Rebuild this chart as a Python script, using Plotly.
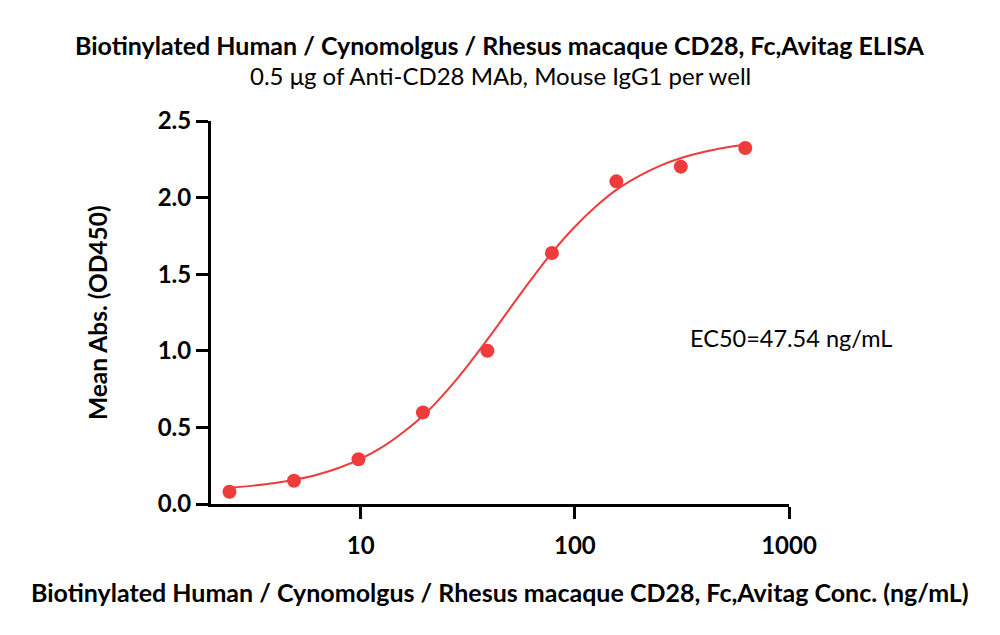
import plotly.graph_objects as go
import numpy as np

# measured points (two-fold dilution series)
conc = [2.44, 4.88, 9.77, 19.53, 39.06, 78.13, 156.25, 312.5, 625]
od450 = [0.080, 0.152, 0.292, 0.598, 1.000, 1.638, 2.106, 2.202, 2.324]

# fitted curve
fit_conc = [2.44, 3.16, 3.98, 5.01, 6.31, 7.94, 10, 12.6, 15.8, 20.0, 25.1, 31.6,
            39.8, 50.1, 63.1, 79.4, 100, 126, 158, 200, 251, 316, 398, 501, 625]
fit_od = [0.106, 0.120, 0.137, 0.161, 0.193, 0.237, 0.295, 0.371, 0.468, 0.589,
          0.735, 0.904, 1.089, 1.282, 1.473, 1.652, 1.810, 1.945, 2.055, 2.142,
          2.209, 2.260, 2.298, 2.326, 2.346]

x_ticks = [10, 100, 1000]
y_ticks = [0, 0.5, 1.0, 1.5, 2.0, 2.5]

RED = "#ee3b3b"
FONT = "Lato"
# page body adds an 8px offset, so shift everything back
OFF = 8
L, R, T, B = 211 - OFF, 211 + OFF, 121 - OFF, 131 + OFF

fig = go.Figure()
fig.add_trace(go.Scatter(x=fit_conc, y=fit_od, mode="lines", line_shape="spline",
                         line=dict(color=RED, width=2), showlegend=False))
fig.add_trace(go.Scatter(x=conc, y=od450, mode="markers",
                         marker=dict(color=RED, size=14), showlegend=False, cliponaxis=False))

axis_common = dict(showline=True, linecolor="black", linewidth=3, ticks="outside",
                   ticklen=12, tickwidth=3, tickcolor="black", showgrid=False,
                   zeroline=False, tickfont=dict(family=FONT, size=24, color="black", weight="bold"))

fig.update_xaxes(type="log", range=[np.log10(2), 3], tickvals=x_ticks,
                 ticktext=[str(v) for v in x_ticks], ticklabelstandoff=6, **axis_common)
fig.update_yaxes(range=[0, 2.5], tickvals=y_ticks,
                 ticktext=[f"{v:.1f}" for v in y_ticks], **axis_common)

fig.update_layout(
    width=1000, height=635,
    margin=dict(l=L, r=R, t=T, b=B),
    paper_bgcolor="white", plot_bgcolor="white",
    font=dict(family=FONT, color="black"),
    annotations=[
        dict(text="<b>Biotinylated Human / Cynomolgus / Rhesus macaque CD28, Fc,Avitag ELISA</b>",
             x=500, y=45, showarrow=False, font=dict(size=25)),
        dict(text="0.5 μg of Anti-CD28 MAb, Mouse IgG1 per well",
             x=500, y=76, showarrow=False, font=dict(size=24)),
        dict(text="<b>Biotinylated Human / Cynomolgus / Rhesus macaque CD28, Fc,Avitag Conc. (ng/mL)</b>",
             x=500, y=592, showarrow=False, font=dict(size=25)),
        dict(text="<b>Mean Abs. (OD450)</b>", textangle=-90,
             x=97, y=313, showarrow=False, font=dict(size=24.5)),
        dict(text="EC50=47.54 ng/mL", x=791, y=338,
             showarrow=False, font=dict(size=23.5)),
    ],
)

# annotations were placed in reference pixels; convert to paper coordinates
pw, ph = 1000 - L - R, 635 - T - B
for a in fig.layout.annotations:
    a.x = (a.x - OFF - L) / pw
    a.y = (635 - B - (a.y - OFF)) / ph
    a.xref = "paper"
    a.yref = "paper"
    a.xanchor = "center"
    a.yanchor = "middle"

fig.write_html("out.html")
